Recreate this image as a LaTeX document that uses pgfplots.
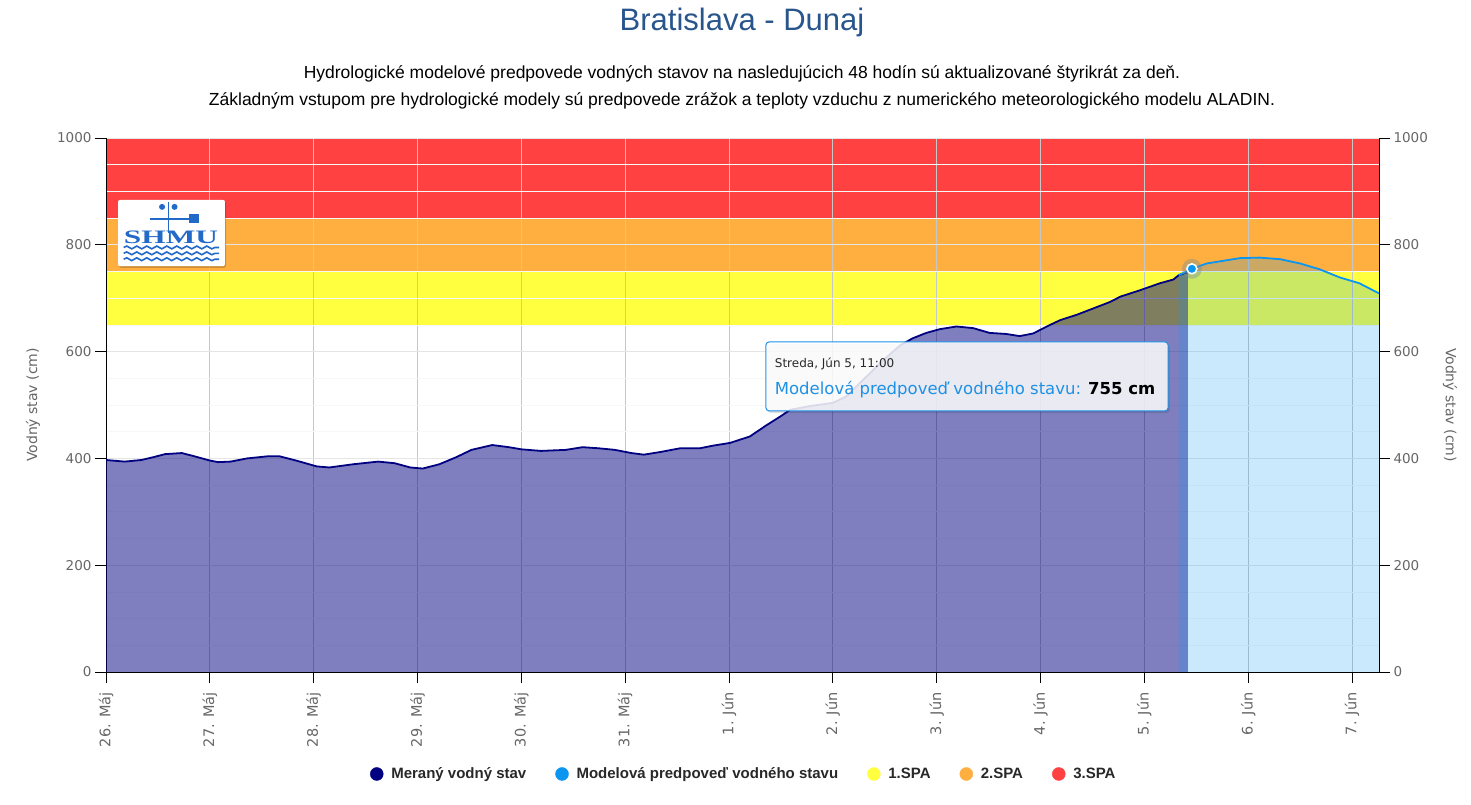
\documentclass[border=0pt]{standalone}
\usepackage{fontspec}
\setmainfont{Liberation Sans}
\newfontfamily\dejavu{DejaVu Sans}
\newfontfamily\logofont{Liberation Serif}
\usepackage{pgfplots}
\usepackage{pgfplotstable}
\pgfplotsset{compat=1.18}
\usetikzlibrary{decorations.pathmorphing}

\definecolor{titleblue}{RGB}{40,85,140}
\definecolor{navyline}{RGB}{0,0,128}
\definecolor{fcblue}{RGB}{10,150,240}
\definecolor{spa1}{RGB}{255,255,64}
\definecolor{spa2}{RGB}{255,175,64}
\definecolor{spa3}{RGB}{255,65,65}
\definecolor{ticktext}{RGB}{102,102,102}
\definecolor{tipblue}{RGB}{30,145,230}
\definecolor{logoblue}{RGB}{35,105,200}
\definecolor{darktext}{RGB}{40,40,40}
\definecolor{halo}{RGB}{120,140,150}

% day 0 = 26. Máj 00:00, values in cm
\pgfplotstableread{
x y
0.00 397
0.18 394
0.34 397
0.45 402
0.57 408
0.73 410
0.85 404
1.00 396
1.08 393
1.20 394
1.36 400
1.56 404
1.67 404
1.83 396
2.03 385
2.15 383
2.38 389
2.62 394
2.78 391
2.93 383
3.05 381
3.21 389
3.37 402
3.52 416
3.72 425
3.88 421
4.00 417
4.19 414
4.43 416
4.59 421
4.74 419
4.90 416
5.06 410
5.18 407
5.34 412
5.53 419
5.72 419
5.85 424
6.01 429
6.20 441
6.36 462
6.49 478
6.59 491
6.78 498
7.00 504
7.13 516
7.26 541
7.39 566
7.52 590
7.65 612
7.77 625
7.90 635
8.03 642
8.19 647
8.35 644
8.51 635
8.67 633
8.80 629
8.93 634
9.06 647
9.19 659
9.35 669
9.51 681
9.67 693
9.77 703
9.96 715
10.15 728
10.28 735
10.33 743
10.42 749
}\measured

\pgfplotstableread{
x y
10.33 743
10.46 755
10.60 765
10.76 770
10.92 775
11.11 776
11.31 773
11.50 765
11.69 754
11.88 739
12.07 728
12.26 709
}\forecast

\pgfplotsset{
  shmu/.style={
    at={(0,0)}, anchor=south west,
    width=1273pt, height=534pt, scale only axis,
    xmin=0, xmax=12.26, ymin=0, ymax=1000,
    ytick={0,200,...,1000},
    tick align=outside,
    major tick length=11pt,
    tick style={black, line width=0.8pt},
    axis line style={black, line width=0.9pt},
    ticklabel style={font=\dejavu\fontsize{13.5}{15}\selectfont, text=ticktext},
    /pgf/number format/assume math mode=true,
    /pgf/number format/1000 sep={},
  },
}

\begin{document}
\begin{tikzpicture}
\path (-106pt,-133pt) rectangle (1365pt,672pt);

\begin{axis}[
  shmu, set layers,
  axis x line*=bottom, axis y line*=left,
  xtick={0,...,12},
  xticklabels={26. Máj,27. Máj,28. Máj,29. Máj,30. Máj,31. Máj,1. Jún,2. Jún,3. Jún,4. Jún,5. Jún,6. Jún,7. Jún},
  xticklabel style={yshift=-6pt, rotate=90, anchor=east, font=\dejavu\fontsize{14.5}{16}\selectfont},
  minor ytick={50,100,...,950},
  minor tick length=0pt,
  xmajorgrids, ymajorgrids, yminorgrids,
  major x grid style={gray!45, line width=0.8pt},
  major y grid style={gray!20, line width=0.8pt},
  minor y grid style={gray!6, line width=0.6pt},
  ylabel={Vodný stav (cm)},
  every axis y label/.style={at={(axis description cs:-0.0573,0.5)}, rotate=90, anchor=center,
    font=\dejavu\fontsize{14}{16}\selectfont, text=ticktext},
  legend style={at={(0.501,-0.191)}, anchor=center, draw=none, fill=none,
    legend columns=-1, font=\bfseries\fontsize{15}{18}\selectfont, text=darktext,
    /tikz/every even column/.append style={column sep=27pt}},
  legend image code/.code={\fill[#1] (0pt,0pt) circle (6.5pt); \path[draw=none, fill=none] (0pt,0pt) -- (12.5pt,0pt);},
]
% warning bands (1.SPA, 2.SPA, 3.SPA)
\addplot[on layer=axis background, draw=none, fill=spa1, forget plot]
  coordinates {(0,650) (12.26,650) (12.26,750) (0,750)};
\addplot[on layer=axis background, draw=none, fill=spa2, forget plot]
  coordinates {(0,750) (12.26,750) (12.26,850) (0,850)};
\addplot[on layer=axis background, draw=none, fill=spa3, forget plot]
  coordinates {(0,850) (12.26,850) (12.26,1000) (0,1000)};

% areas
\addplot[draw=none, fill=navyline, fill opacity=0.5, forget plot] table {\measured} \closedcycle;
\addplot[draw=none, fill=fcblue, fill opacity=0.21, forget plot] table {\forecast} \closedcycle;
\addplot[navyline, line width=1.8pt, forget plot] table {\measured};
\addplot[fcblue, line width=1.8pt, forget plot] table {\forecast};

% hovered point
\addplot[only marks, mark=*, mark size=10pt, mark options={draw opacity=0, fill=halo, fill opacity=0.4}, forget plot]
  coordinates {(10.458,755)};
\addplot[only marks, mark=*, mark size=5pt, mark options={draw=white, line width=1.6pt, fill=fcblue}, forget plot]
  coordinates {(10.458,755)};

% logo
\fill[black, opacity=0.18, rounded corners=2pt] (axis cs:0.126,881) rectangle (axis cs:1.156,757);
\fill[white, rounded corners=2pt] (axis cs:0.116,884) rectangle (axis cs:1.146,760);
\draw[logoblue, line width=1.6pt] (axis cs:0.60,880) -- (axis cs:0.60,822);
\draw[logoblue, line width=1.8pt] (axis cs:0.42,849) -- (axis cs:0.82,849);
\fill[logoblue] (axis cs:0.80,841) rectangle (axis cs:0.90,858);
\fill[logoblue] (axis cs:0.54,871) circle (3pt) (axis cs:0.66,871) circle (3pt);
\node[font=\logofont\bfseries\fontsize{19}{19}\selectfont, text=logoblue, xscale=1.65]
  at (axis cs:0.626,814) {SHMU};
\draw[logoblue, line width=1.6pt, decorate, decoration={snake, amplitude=1.4pt, segment length=10pt}]
  (axis cs:0.17,795) -- (axis cs:1.09,795);
\draw[logoblue, line width=1.6pt, decorate, decoration={snake, amplitude=1.4pt, segment length=10pt}]
  (axis cs:0.17,784) -- (axis cs:1.09,784);
\draw[logoblue, line width=1.6pt, decorate, decoration={snake, amplitude=1.4pt, segment length=10pt}]
  (axis cs:0.17,773) -- (axis cs:1.09,773);

% tooltip
\fill[black, opacity=0.12, rounded corners=3pt] (axis cs:6.372,614) rectangle (axis cs:10.244,485);
\draw[tipblue, line width=1pt, fill=white, fill opacity=0.85, rounded corners=3pt]
  (axis cs:6.356,618) rectangle (axis cs:10.228,489);
\node[anchor=base west, inner sep=0pt, font=\dejavu\fontsize{12}{14}\selectfont, text=darktext]
  at (axis cs:6.44,571) {Streda, Jún 5, 11:00};
\node[anchor=base west, inner sep=0pt, font=\dejavu\fontsize{16.5}{19}\selectfont]
  at (axis cs:6.44,519) {\textcolor{tipblue}{Modelová predpoveď vodného stavu:} \textbf{755 cm}};

% legend
\addlegendimage{navyline}
\addlegendentry{Meraný vodný stav}
\addlegendimage{fcblue}
\addlegendentry{Modelová predpoveď vodného stavu}
\addlegendimage{spa1}
\addlegendentry{1.SPA}
\addlegendimage{spa2}
\addlegendentry{2.SPA}
\addlegendimage{spa3}
\addlegendentry{3.SPA}
\end{axis}

\begin{axis}[
  shmu,
  axis x line=none, axis y line*=right,
  ylabel={Vodný stav (cm)},
  every axis y label/.style={at={(axis description cs:1.0557,0.5)}, rotate=-90, anchor=center,
    font=\dejavu\fontsize{14}{16}\selectfont, text=ticktext},
]
\addplot[draw=none, forget plot] coordinates {(0,0) (12.26,1000)};
\end{axis}

\node[font=\fontsize{31}{36}\selectfont, text=titleblue] at (636pt,650pt) {Bratislava - Dunaj};
\node[font=\fontsize{17.5}{20}\selectfont, text=black] at (636pt,598pt)
  {Hydrologické modelové predpovede vodných stavov na nasledujúcich 48 hodín sú aktualizované štyrikrát za deň.};
\node[font=\fontsize{17.5}{20}\selectfont, text=black] at (636pt,571pt)
  {Základným vstupom pre hydrologické modely sú predpovede zrážok a teploty vzduchu z numerického meteorologického modelu ALADIN.};
\end{tikzpicture}
\end{document}
